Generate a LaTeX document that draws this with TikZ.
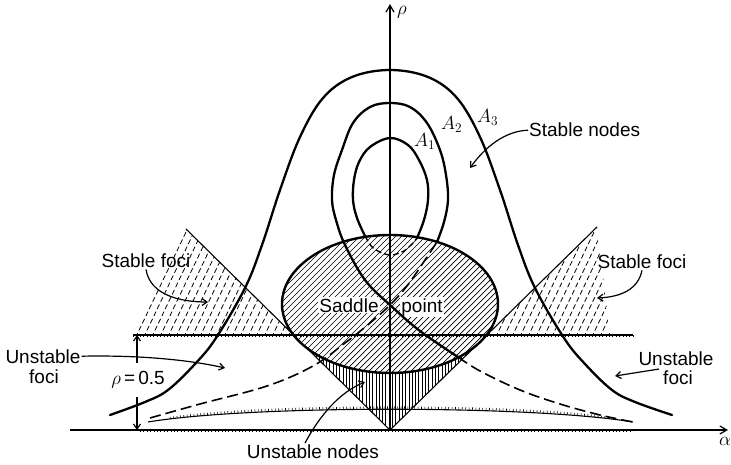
\documentclass[tikz,border=0pt]{standalone}
\usepackage{fix-cm}
\usepackage{fontspec}
\setmainfont{Liberation Sans}
\usetikzlibrary{arrows.meta}
\tikzset{
  thickc/.style={line width=2.3pt, line cap=round, line join=round},
  dashc/.style={line width=1.6pt, dash pattern=on 11pt off 5pt},
  thinl/.style={line width=1.1pt},
  hatchl/.style={line width=0.7pt},
  fhatch/.style={line width=0.8pt, dash pattern=on 5pt off 3pt},
  tickl/.style={line width=2.2pt, dash pattern=on 0.6pt off 2.8pt},
  lbl/.style={font=\fontsize{19}{20}\selectfont, inner sep=1pt, anchor=base},
  mlbl/.style={font=\fontsize{19}{20}\selectfont, inner sep=0pt, anchor=base west},
  ann/.style={line width=1.2pt, -{Straight Barb[length=5pt,width=7pt]}},
  axisl/.style={line width=1.2pt, -{Straight Barb[length=7pt,width=8pt]}},
}
\begin{document}
\begin{tikzpicture}[x=1pt,y=-1pt]
\useasboundingbox (0,0) rectangle (731,465);
\fill[white] (0,0) rectangle (731,465);

% key points
\coordinate (apex) at (390,430);
\coordinate (tl) at (186,229);
\coordinate (tr) at (597,227);

% stable foci hatching
\begin{scope}
  \clip (133,335) -- (tl) -- (294,335) -- cycle;
  \foreach \x in {60,68,...,340} \draw[fhatch] (\x,345) -- ({\x+55},230);
\end{scope}
\begin{scope}
  \clip (486,335) -- (tr) -- (610,335) -- cycle;
  \foreach \x in {420,428,...,640} \draw[fhatch] (\x,345) -- ({\x+55},230);
\end{scope}

% unstable nodes triangle hatching
\begin{scope}
  \clip (apex) -- (302,343) -- (478,343) -- cycle;
  \foreach \x in {300,303.3,...,482} \draw[hatchl] (\x,340) -- (\x,432);
\end{scope}

% 45 degree boundary lines
\draw[thinl] (tl) -- (apex) -- (tr);

% saddle ellipse
\fill[white] (390,304) ellipse [x radius=108, y radius=69];
\begin{scope}
  \clip (390,304) ellipse [x radius=108, y radius=69];
  \foreach \k in {-200,-194,...,200} \draw[hatchl] ({390+\k-80},384) -- ({390+\k+80},224);
\end{scope}
\draw[line width=2.4pt] (390,304) ellipse [x radius=108, y radius=69];

\node[lbl, fill=white] (sad) at (349,312) {Saddle};
\node[lbl, fill=white] (pt) at (422,312) {point};

% horizontal boundary rho = 0.5
\draw[thinl] (133,335) -- (633,335);
\draw[tickl] (133,336.3) -- (633,336.3);

% axes
\coordinate (xo) at (70,430);
\coordinate (xe) at (728,430);
\coordinate (yo) at (390,430);
\coordinate (ye) at (390,4);
\draw[axisl] (xo) -- (xe);
\draw[tickl] (140,431.2) -- (633,431.2);
\draw[axisl] (yo) -- (ye);

% thin boundary arc
\draw[thinl] (148,422) .. controls (250,405) and (530,405) .. (633,422);
\draw[tickl] (170,418) .. controls (260,404) and (520,404) .. (610,418);

% A2 separatrix loop
\draw[dashc] plot[smooth, tension=0.6] coordinates {(150,418) (200,404) (267,386) (313,366) (345,343) (370,323) (390,305) (407,286) (423,263) (437,242)};
\draw[thickc] plot[smooth, tension=0.6] coordinates {(437,242) (444,222) (448,200) (446,175) (440,150) (427,123) (410,107) (390,103) (370,107) (353,123) (342,150) (334,175) (332,200) (336,220) (345,245) (365,280) (390,305) (420,331) (458,357)};
\draw[dashc] plot[smooth, tension=0.6] coordinates {(458,357) (480,371) (520,390) (560,404) (600,415) (633,422)};

% A1 oval
\draw[thickc] plot[smooth, tension=0.6] coordinates {(365,236) (357,218) (353,200) (354,180) (359,162) (370,147) (390,138) (408,145) (419,160) (427,180) (428,200) (424,220) (417,238)};
\draw[line width=1.4pt, dash pattern=on 6pt off 3pt] plot[smooth] coordinates {(365,236) (372,247) (382,253) (392,255) (404,251) (413,243) (417,238)};

% A3 bell curve
\draw[thickc] plot[smooth, tension=0.6] coordinates {(110,415) (145,402) (168,390) (195,364) (216,338) (245,288) (262,245) (280,190) (300,137) (323,98) (352,77) (390,70) (428,77) (457,98) (480,137) (500,190) (518,245) (535,288) (564,338) (585,364) (612,390) (635,402) (672,415)};

% math labels
\node[mlbl] (rho) at (397,15) {$\rho$};
\node[mlbl] (alpha) at (719,445) {$\alpha$};
\node[mlbl] (a1) at (414,147) {$A_1$};
\node[mlbl] (a2) at (441,130) {$A_2$};
\node[mlbl] (a3) at (477,123) {$A_3$};

% text labels
\node[lbl, anchor=base west] (sn) at (528,137) {Stable nodes};
\node[lbl] (sfl) at (146,268) {Stable foci};
\node[lbl] (sfr) at (642,269) {Stable foci};
\node[lbl] (ufl1) at (43,363) {Unstable};
\node[lbl] (ufl2) at (44,383) {foci};
\node[lbl] (ufr1) at (676,365) {Unstable};
\node[lbl] (ufr2) at (678,384) {foci};
\node[lbl] (un) at (313,458) {Unstable nodes};
\node[lbl] (r05) at (138,384) {$\rho$\,=\,0.5};

% annotation arrows
\coordinate (tsn) at (470,168);
\coordinate (tsfl) at (208,302);
\coordinate (tsfr) at (597,298);
\coordinate (tufl) at (225,368);
\coordinate (tufr) at (615,376);
\coordinate (tun) at (365,382);
\draw[ann] (sn.west) .. controls (505,131) and (485,147) .. (tsn);
\draw[ann] (sfl.south) .. controls (150,295) and (180,302) .. (tsfl);
\draw[ann] (sfr.south) .. controls (638,290) and (620,297) .. (tsfr);
\draw[ann] (ufl1.east) .. controls (140,355) and (190,360) .. (tufl);
\draw[ann] ([xshift=-3pt]ufr2.north west) -- (tufr);
\draw[ann] ([xshift=-8pt]un.north) .. controls (320,415) and (340,392) .. (tun);

% rho = 0.5 dimension
\coordinate (d1) at (137,363);
\coordinate (d1e) at (137,335);
\coordinate (d2) at (137,397);
\coordinate (d2e) at (137,430);
\draw[ann] (d1) -- (d1e);
\draw[ann] (d2) -- (d2e);
\end{tikzpicture}
\end{document}
